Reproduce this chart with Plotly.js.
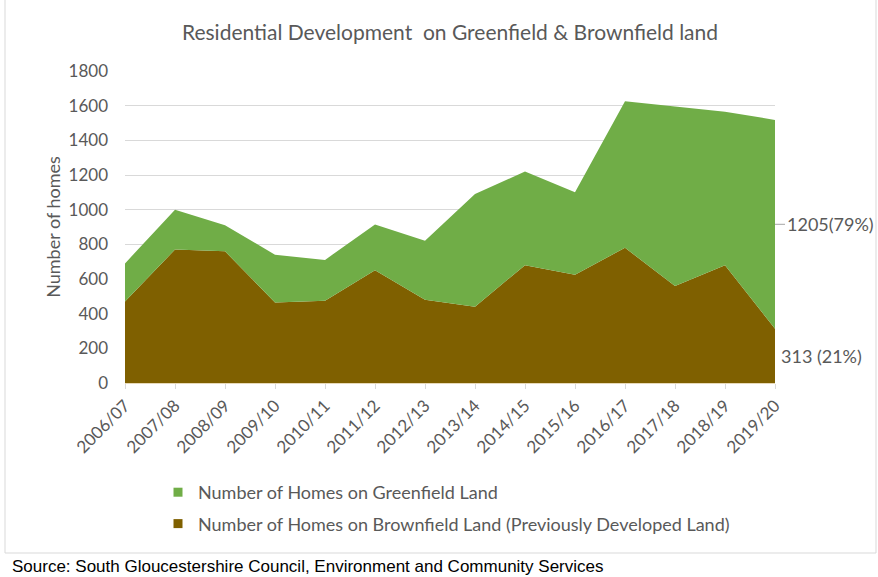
<!DOCTYPE html>
<html>
<head>
<meta charset="utf-8">
<script src="https://cdn.plot.ly/plotly-3.0.1.min.js"></script>
<style>html,body{margin:0;padding:0;background:#fff;}#chart{width:878px;height:577px;}</style>
</head>
<body>
<div id="chart"></div>
<script>
var years = ['2006/07','2007/08','2008/09','2009/10','2010/11','2011/12','2012/13','2013/14','2014/15','2015/16','2016/17','2017/18','2018/19','2019/20'];
var brownfield = [470, 770, 760, 465, 475, 650, 480, 440, 680, 625, 780, 560, 680, 313];
var greenfield = [220, 230, 150, 275, 235, 265, 340, 650, 540, 475, 845, 1035, 885, 1205];
var seriesNames = ['Number of Homes on Brownfield Land (Previously Developed Land)', 'Number of Homes on Greenfield Land'];
var chartTitle = 'Residential Development  on Greenfield &amp; Brownfield land';
var yTitle = 'Number of homes';
var sourceText = 'Source: South Gloucestershire Council, Environment and Community Services';

var GREEN = '#70AD47', BROWN = '#7F6000', TXT = '#595959';
var FONT = 'Lato, "Open Sans", sans-serif';

var last = years.length - 1;
var lb = brownfield[last], lg = greenfield[last], tot = lb + lg;
var pctG = Math.round(lg / tot * 100), pctB = Math.round(lb / tot * 100);

var traces = [
  {x: years, y: brownfield, name: seriesNames[0], type: 'scatter', mode: 'none', stackgroup: 'one',
   fillcolor: BROWN, showlegend: false, hoverinfo: 'x+y'},
  {x: years, y: greenfield, name: seriesNames[1], type: 'scatter', mode: 'none', stackgroup: 'one',
   fillcolor: GREEN, showlegend: false, hoverinfo: 'x+y'},
  // legend-only entries with square keys
  {x: [years[0]], y: [null], name: seriesNames[1], type: 'scatter', mode: 'markers',
   marker: {symbol: 'square', size: 9, color: GREEN}, legendgroup: 'g', legendrank: 1, showlegend: true},
  {x: [years[0]], y: [null], name: seriesNames[0], type: 'scatter', mode: 'markers',
   marker: {symbol: 'square', size: 9, color: BROWN}, legendgroup: 'b', legendrank: 2, showlegend: true}
];

var L = 125, R = 775, T = 71, B = 383;
function px(xp){ return (xp - L) / (R - L); }
function py(yp){ return (B - yp) / (B - T); }

var layout = {
  width: 878, height: 577,
  margin: {l: L, r: 878 - R, t: T, b: 577 - B, pad: 0},
  paper_bgcolor: '#fff', plot_bgcolor: '#fff',
  font: {family: FONT, color: TXT, size: 17},
  title: {text: chartTitle, font: {family: FONT, size: 21, color: TXT}, x: 0.5, xref: 'paper', xanchor: 'center', y: 0.943, yanchor: 'middle'},
  showlegend: true,
  legend: {orientation: 'v', x: px(158), xanchor: 'left', y: py(474), yanchor: 'top',
           traceorder: 'grouped', tracegroupgap: 5, itemwidth: 30, font: {family: FONT, size: 18, color: TXT},
           bgcolor: 'rgba(0,0,0,0)'},
  xaxis: {type: 'category', range: [0, last], tickangle: -45, ticks: 'outside', ticklen: 5, tickcolor: '#D9D9D9',
          showgrid: false, showline: true, linecolor: '#E7D9B9', linewidth: 1, zeroline: false,
          tickfont: {family: FONT, size: 17, color: TXT}, fixedrange: true},
  yaxis: {range: [0, 1800], dtick: 200, tick0: 0, showgrid: true, gridcolor: '#D9D9D9', gridwidth: 1,
          zeroline: false, showline: false, ticks: '', ticklabelstandoff: 16,
          tickfont: {family: FONT, size: 17, color: TXT},
          title: {text: yTitle, font: {family: FONT, size: 18, color: TXT}, standoff: 3}, fixedrange: true},
  annotations: [
    {x: years[last], y: lb + lg / 2, xref: 'x', yref: 'y', text: lg + '(' + pctG + '%)',
     showarrow: true, arrowhead: 0, arrowwidth: 1, arrowcolor: '#A6A6A6', ax: 10, ay: 0, xanchor: 'left',
     font: {family: FONT, size: 18, color: TXT}},
    {x: years[last], y: lb / 2, xref: 'x', yref: 'y', text: lb + ' (' + pctB + '%)',
     showarrow: false, xanchor: 'left', xshift: 4, font: {family: FONT, size: 18, color: TXT}},
    {x: px(10), y: py(566), xref: 'paper', yref: 'paper', text: sourceText, showarrow: false,
     xanchor: 'left', yanchor: 'middle', font: {family: 'Liberation Sans, Arial, sans-serif', size: 17, color: '#000'}}
  ],
  shapes: [
    {type: 'rect', xref: 'paper', yref: 'paper', x0: px(5), x1: px(876), y0: py(553), y1: py(-2),
     line: {color: '#D9D9D9', width: 1}, fillcolor: 'rgba(0,0,0,0)', layer: 'below'}
  ]
};

Plotly.newPlot('chart', traces, layout, {displayModeBar: false, staticPlot: true});
</script>
</body>
</html>
